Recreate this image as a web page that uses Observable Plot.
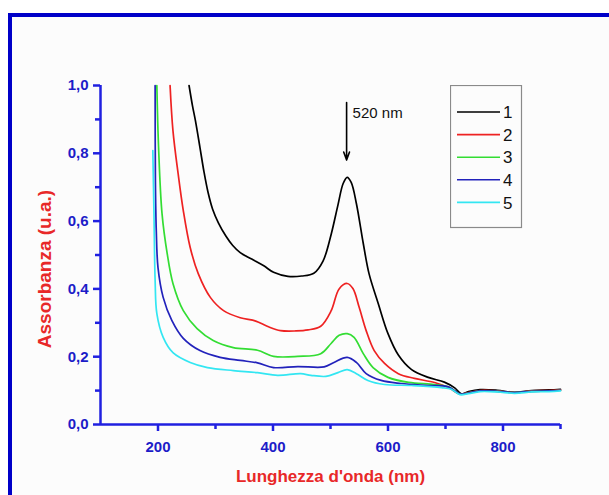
<!DOCTYPE html>
<html><head><meta charset="utf-8">
<script src="https://cdn.jsdelivr.net/npm/d3@7"></script>
<script src="https://cdn.jsdelivr.net/npm/@observablehq/plot@0.6"></script>
<style>
body{margin:0;background:#fff;}
#wrap{position:relative;width:609px;height:495px;overflow:hidden;}
#frame{position:absolute;left:8px;top:13px;width:640px;height:520px;border-top:4px solid #0000c8;border-left:4px solid #0000c8;background:#fcfcfc;}
#chart{position:absolute;left:0;top:0;}
#legend{position:absolute;left:450px;top:85px;}
</style>
</head><body>
<div id="wrap"><div id="frame"></div><div id="chart"></div><div id="legend"></div></div>
<script>
const seriesNames = ["1","2","3","4","5"];
const seriesColors = ["#000000","#ee2222","#33dd33","#2222bb","#33e6f2"];

const s1nm  = [254,260,265,273,280,287,295,305,318,330,343,355,366,384,401,426,450,471,487,501,513,522,529,536,545,557,567,583,600,618,641,670,698,716,728,740,760,790,820,850,880,900];
const s1abs = [1.0,0.94,0.897,0.817,0.745,0.685,0.635,0.595,0.556,0.528,0.507,0.495,0.485,0.468,0.449,0.437,0.438,0.446,0.482,0.560,0.648,0.711,0.729,0.714,0.652,0.534,0.445,0.357,0.268,0.205,0.162,0.139,0.125,0.108,0.090,0.097,0.103,0.101,0.095,0.100,0.102,0.104];

const s2nm  = [221,226,235,244,256,270,291,314,343,370,391,413,440,461,483,501,515,529,539,550,562,576,594,618,646,681,705,725,740,760,790,820,850,880,900];
const s2abs = [1.0,0.867,0.740,0.631,0.522,0.445,0.375,0.336,0.315,0.305,0.289,0.277,0.276,0.279,0.290,0.335,0.400,0.416,0.401,0.345,0.277,0.218,0.180,0.150,0.136,0.124,0.109,0.090,0.094,0.100,0.099,0.094,0.099,0.100,0.102];

const s3nm  = [198,201,207,216,226,244,268,296,331,373,401,443,483,501,515,529,541,557,574,600,636,681,705,725,740,760,790,820,850,880,900];
const s3abs = [1.0,0.817,0.622,0.504,0.416,0.336,0.283,0.248,0.227,0.219,0.201,0.201,0.209,0.239,0.263,0.268,0.257,0.209,0.168,0.139,0.124,0.118,0.111,0.090,0.093,0.099,0.098,0.094,0.098,0.099,0.101];

const s4nm  = [195,195.5,197,200,209,224,244,273,308,343,373,401,443,489,506,529,545,562,588,623,670,705,725,740,760,790,820,850,880,900];
const s4abs = [1.0,0.72,0.572,0.463,0.375,0.307,0.254,0.218,0.198,0.189,0.182,0.168,0.171,0.170,0.183,0.198,0.183,0.150,0.130,0.121,0.115,0.111,0.090,0.093,0.099,0.098,0.094,0.098,0.099,0.101];

const s5nm  = [191,193,195,198,209,226,256,286,331,373,408,448,466,492,513,529,545,565,594,641,693,710,725,740,760,790,820,850,880,900];
const s5abs = [0.808,0.622,0.425,0.327,0.257,0.212,0.183,0.168,0.159,0.153,0.145,0.150,0.145,0.142,0.153,0.162,0.150,0.130,0.118,0.115,0.109,0.104,0.088,0.091,0.097,0.096,0.092,0.096,0.097,0.099];

const xMajorTicks = [200,400,600,800];
const xMinorTicks = [300,500,700,900];
const yMajorTicks = [0,0.2,0.4,0.6,0.8,1.0];
const yMinorTicks = [0.1,0.3,0.5,0.7,0.9];
const xTitle = "Lunghezza d'onda (nm)";
const yTitle = "Assorbanza (u.a.)";
const peakLabel = "520 nm";
const peakNm = 528;
const arrowFrom = 0.95, arrowTo = 0.78;

const allNm = [s1nm,s2nm,s3nm,s4nm,s5nm];
const allAbs = [s1abs,s2abs,s3abs,s4abs,s5abs];
const rows = [];
allNm.forEach((nms,i)=>nms.forEach((w,j)=>rows.push({series:seriesNames[i], nm:w, a:allAbs[i][j]})));

const axisBlue = "#2020e0";
const textBlue = "#1c1cc8";
const red = "#e82828";
const font = "'Liberation Sans', Arial, sans-serif";

const chart = Plot.plot({
  width:609, height:495,
  marginLeft:100, marginRight:49, marginTop:85, marginBottom:71,
  style:{background:"transparent", fontFamily:font, overflow:"visible"},
  x:{domain:[100,900]},
  y:{domain:[0,1]},
  color:{domain:seriesNames, range:seriesColors},
  marks:[
    Plot.line(rows,{x:"nm", y:"a", z:"series", stroke:"series", strokeWidth:1.7, curve:"catmull-rom"}),
    Plot.ruleY([0],{stroke:axisBlue, strokeWidth:2.5}),
    Plot.ruleX([100],{stroke:axisBlue, strokeWidth:2.5}),
    Plot.axisX({ticks:xMajorTicks, tickSize:7, tickPadding:10, stroke:axisBlue, strokeWidth:2.5, fill:textBlue, fontWeight:"bold", fontSize:15, label:null}),
    Plot.axisX({ticks:xMinorTicks, tickSize:5, text:null, stroke:axisBlue, strokeWidth:2.5, label:null}),
    Plot.axisY({ticks:yMajorTicks, tickSize:7, tickPadding:5, tickFormat:d=>d.toFixed(1).replace(".",","), stroke:axisBlue, strokeWidth:2.5, fill:textBlue, fontWeight:"bold", fontSize:15, label:null}),
    Plot.axisY({ticks:yMinorTicks, tickSize:5, text:null, stroke:axisBlue, strokeWidth:2.5, label:null}),
    Plot.text([xTitle],{frameAnchor:"bottom", dy:57, fill:red, fontWeight:"bold", fontSize:17}),
    Plot.text([yTitle],{frameAnchor:"left", textAnchor:"middle", rotate:-90, dx:-56, dy:14, fill:red, fontWeight:"bold", fontSize:19}),
    Plot.arrow([{x:peakNm, y1:arrowFrom, y2:arrowTo}],{x1:"x", x2:"x", y1:"y1", y2:"y2", stroke:"#000", strokeWidth:1.6, headLength:8, headAngle:40}),
    Plot.text([{x:peakNm, y:0.917, t:peakLabel}],{x:"x", y:"y", text:"t", dx:6, textAnchor:"start", fontSize:15, fill:"#111"})
  ]
});
document.getElementById("chart").append(chart);

// legend box built from series arrays
const lg = d3.select("#legend").append("svg").attr("width",73).attr("height",144)
  .style("font-family",font);
lg.append("rect").attr("x",0.5).attr("y",0.5).attr("width",71).attr("height",142)
  .attr("fill","none").attr("stroke","#8a8a8a").attr("stroke-width",1.2);
seriesNames.forEach((n,i)=>{
  const yy = 27 + i*22.6;
  lg.append("line").attr("x1",7).attr("x2",50).attr("y1",yy).attr("y2",yy)
    .attr("stroke",seriesColors[i]).attr("stroke-width",1.6);
  lg.append("text").attr("x",53).attr("y",yy).attr("dy","0.36em")
    .attr("font-size",17).attr("fill","#111").text(n);
});
</script>
</body></html>
